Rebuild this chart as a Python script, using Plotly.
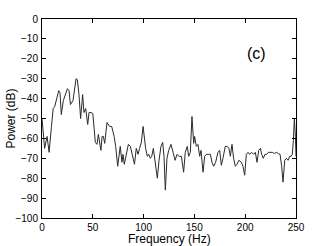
import plotly.graph_objects as go

freq_hz = [0, 2.6, 5, 7, 9.3, 11, 12.5, 15, 16.5, 17.7, 19, 21, 25, 26.6, 28, 30.5, 33.5, 34.8, 36.4, 38, 40,
           41.3, 43, 45, 46.3, 48.2, 50, 52.5, 54.1, 55.5, 56.8, 58, 59.1, 60.4, 61.7, 64, 66.6, 68.6, 71,
           72.5, 74.5, 75.8, 77, 78.7, 79.7, 81, 83, 85, 87, 88.6, 91, 92.8, 94.5, 96, 97.8, 99.5, 100.7,
           102, 103.7, 105, 106.6, 108, 109.6, 111.3, 113.5, 115.2, 117.1, 118.8, 120.1, 121.4, 123, 124.7,
           127, 129, 131, 132.9, 134.9, 137.2, 139.4, 141, 143, 144.4, 146, 147.6, 149.3, 150.2, 151.9,
           153.5, 155.2, 156.5, 158.5, 160.1, 161.8, 164, 165.7, 167.3, 169, 170.9, 173.2, 174.9, 176.5,
           178.1, 180.4, 182.4, 184, 185.4, 187, 188.6, 190.3, 191.9, 193.9, 196.2, 197.8, 199.5, 201.1,
           202.8, 204.4, 206.4, 208.3, 210, 211.6, 213.3, 215, 216.2, 217.8, 219.5, 221.1, 222.8, 224.8,
           226.7, 229, 230.6, 232.6, 234.3, 235.9, 237.2, 238.9, 240.5, 242.2, 243.8, 245.1, 246.4, 247.4,
           248.4, 249.4, 250]
power_db = [-50, -65, -59, -67, -54, -45, -44, -38, -36, -37, -48, -41, -35, -36, -43, -41, -30, -30.5, -38,
            -50, -38, -47, -45, -53, -47, -47, -47.5, -62, -63, -58, -62, -66, -59, -59, -62.5, -52, -54,
            -54, -59, -64, -74, -68, -64, -72, -68, -73, -68, -63, -64, -68, -73, -65, -68, -65, -62, -54,
            -61, -65, -69, -68, -70, -69, -65, -71, -80, -71, -64, -62, -69, -86, -70, -66, -63, -67, -71,
            -68, -69, -69, -77, -67, -64, -69, -67, -49, -62.5, -59, -64, -63, -69, -66, -77, -69, -68, -68,
            -68, -72, -74, -72, -67, -66, -73.5, -70, -64, -64, -65, -69, -63, -70, -74, -73, -71, -72, -74,
            -78.5, -68, -67, -68, -67, -68, -67, -72, -66, -65, -68, -70, -68, -68, -67, -67, -67, -67.6,
            -67, -67.6, -68, -74, -82, -71, -70, -71, -69, -69, -68, -61, -50, -59, -69]

x_ticks = [0, 50, 100, 150, 200, 250]
y_ticks = [0, -10, -20, -30, -40, -50, -60, -70, -80, -90, -100]
panel_label = "(c)"
x_title = "Frequency (Hz)"
y_title = "Power (dB)"

FONT = "Liberation Sans, Arial"

fig = go.Figure()
fig.add_trace(go.Scatter(x=freq_hz, y=power_db, mode="lines",
                         line=dict(color="#2a2a2a", width=1), showlegend=False))

axis_common = dict(showline=True, linecolor="black", linewidth=1, mirror="ticks",
                   ticks="inside", ticklen=4, tickcolor="black", showgrid=False,
                   zeroline=False, automargin=False,
                   tickfont=dict(family=FONT, size=10, color="black"))

fig.update_xaxes(range=[0, 250], tickvals=x_ticks, ticklabelstandoff=0, **axis_common)
fig.update_yaxes(range=[-100, 0], tickvals=y_ticks, ticklabelstandoff=1, **axis_common)

fig.add_annotation(x=0.5, y=0, xref="paper", yref="paper", yshift=-21, yanchor="middle",
                   text=x_title, showarrow=False,
                   font=dict(family=FONT, size=12, color="black"))
fig.add_annotation(x=0, y=0.5, xref="paper", yref="paper", xshift=-32, xanchor="center",
                   text=y_title, showarrow=False, textangle=-90,
                   font=dict(family=FONT, size=12, color="black"))

fig.add_annotation(x=211, y=-17.5, text=panel_label, showarrow=False,
                   font=dict(family=FONT, size=16, color="black"))

fig.update_layout(width=327, height=246, margin=dict(l=42, r=31, t=19, b=28),
                  plot_bgcolor="white", paper_bgcolor="white")

fig.write_html("out.html", config={"displayModeBar": False},
               post_script="document.body.style.margin='0';document.body.style.overflow='hidden';")
